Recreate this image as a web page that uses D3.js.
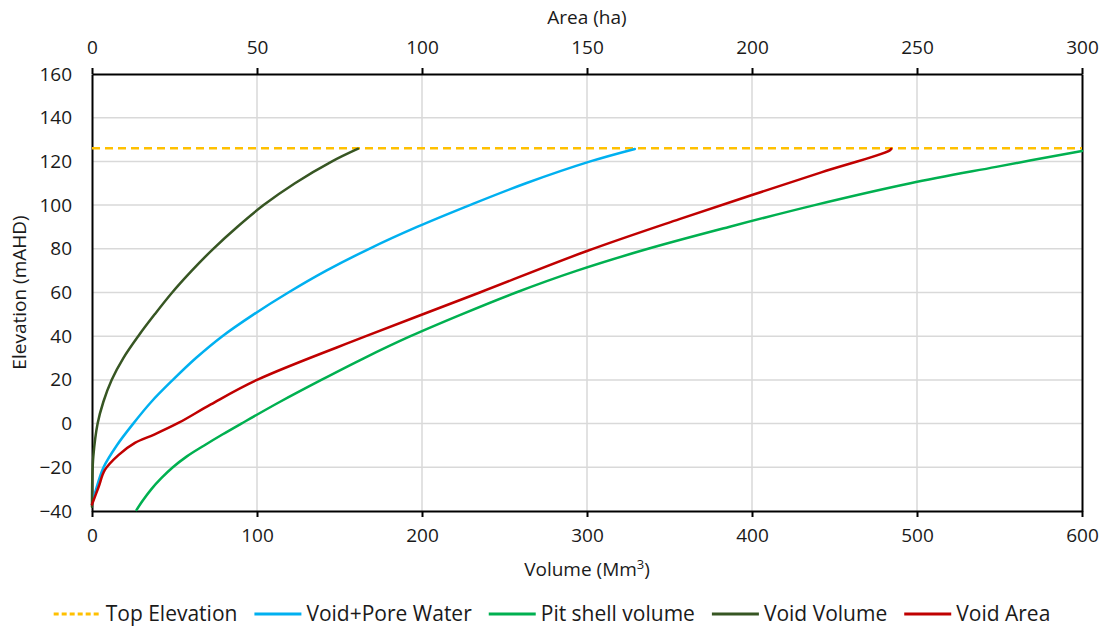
<!DOCTYPE html>
<html>
<head>
<meta charset="utf-8">
<script src="https://cdn.jsdelivr.net/npm/d3@7"></script>
<style>
  body { margin: 0; background: #fff; }
  text { font-family: "Open Sans", sans-serif; fill: #1a1a1a; }
</style>
</head>
<body>
<div class="first"></div>
<script>
// values: [volume Mm3 (or area ha), elevation mAHD]
const topElevation = 126;
const topElevationSpan = [0, 600];

const voidPoreWater = [
  [0, -37], [2.5, -30], [7, -20], [15, -10], [25, 0], [36, 10], [49, 20],
  [63, 30], [79, 40], [98, 50], [119, 60], [142, 70], [168, 80], [197, 90],
  [229, 100], [263, 110], [302, 120], [329, 125.7]
];

const pitShellVolume = [
  [27, -39.5], [31, -35], [36, -30], [42, -25], [49, -20], [57.5, -15],
  [68, -10], [79, -5], [90.5, 0], [114, 10], [139, 20], [165, 30], [193, 40],
  [224, 50], [257, 60], [294, 70], [337, 80], [386, 90], [438, 100],
  [496, 110], [548, 117.5], [600, 124.8]
];

const voidVolume = [
  [0, -38], [0.2, -25], [0.8, -15], [3.4, 0], [6.9, 10], [11.9, 20], [19, 30],
  [28, 40], [38, 50], [48.6, 60], [60.5, 70], [73.5, 80], [88, 90], [104, 100],
  [123, 110], [145.5, 120], [161.3, 125.8]
];

// void area is plotted against the top axis (ha)
const voidArea = [
  [0, -37], [2, -29], [3.9, -21.2], [8, -14.4], [13, -8.8], [19, -4.9],
  [26.3, 0.4], [36, 8.8], [50, 20], [83, 40], [117.5, 60], [150, 79],
  [178, 93.6], [200, 104.6], [221, 115], [241.5, 124.8], [242.2, 125.8]
];

const volumeTicks = [0, 100, 200, 300, 400, 500, 600];
const areaTicks = [0, 50, 100, 150, 200, 250, 300];
const elevationTicks = [-40, -20, 0, 20, 40, 60, 80, 100, 120, 140, 160];

const legendItems = [
  {label: 'Top Elevation', color: '#FFC000', dash: '5,3'},
  {label: 'Void+Pore Water', color: '#00B0F0'},
  {label: 'Pit shell volume', color: '#00B050'},
  {label: 'Void Volume', color: '#375623'},
  {label: 'Void Area', color: '#C00000'}
];

const w = 1104, h = 627;
const m = {top: 74, left: 92, right: 22, bottom: 116};

const svg = d3.select('.first').append('svg')
    .attr('width', w)
    .attr('height', h);

const x = d3.scaleLinear().domain([0, 600]).range([m.left, w - m.right]);
const xTop = d3.scaleLinear().domain([0, 300]).range([m.left, w - m.right]);
const y = d3.scaleLinear().domain([-40, 160]).range([h - m.bottom, m.top]);

// grid
svg.append('g').selectAll('line.vg')
    .data(volumeTicks.slice(1, -1))
    .enter().append('line')
    .attr('x1', d => x(d)).attr('x2', d => x(d))
    .attr('y1', y(160)).attr('y2', y(-40))
    .attr('stroke', '#d9d9d9').attr('stroke-width', 1.5);
svg.append('g').selectAll('line.hg')
    .data(elevationTicks.slice(1, -1))
    .enter().append('line')
    .attr('x1', x(0)).attr('x2', x(600))
    .attr('y1', d => y(d)).attr('y2', d => y(d))
    .attr('stroke', '#d9d9d9').attr('stroke-width', 1.5);

// axes
const fs = 19;
const bottomAxis = svg.append('g')
    .attr('transform', `translate(0,${y(-40)})`)
    .call(d3.axisBottom(x).tickValues(volumeTicks).tickSize(6).tickSizeOuter(0).tickPadding(12));
const topAxis = svg.append('g')
    .attr('transform', `translate(0,${y(160)})`)
    .call(d3.axisTop(xTop).tickValues(areaTicks).tickSize(6).tickSizeOuter(0).tickPadding(14));
const leftAxis = svg.append('g')
    .attr('transform', `translate(${x(0)},0)`)
    .call(d3.axisLeft(y).tickValues(elevationTicks).tickSize(0).tickPadding(20));
const rightAxis = svg.append('g')
    .attr('transform', `translate(${x(600)},0)`)
    .call(d3.axisRight(y).tickValues([]).tickSizeOuter(0));

[bottomAxis, topAxis, leftAxis, rightAxis].forEach(a => {
  a.selectAll('path').attr('stroke', '#000').attr('stroke-width', 2);
  a.selectAll('line').attr('stroke', '#000').attr('stroke-width', 2);
  a.selectAll('text')
      .style('font-family', '"Open Sans", sans-serif')
      .attr('font-size', fs)
      .attr('fill', '#1a1a1a');
});

// axis titles
svg.append('text')
    .attr('x', (x(0) + x(600)) / 2)
    .attr('y', 24)
    .attr('text-anchor', 'middle')
    .attr('font-size', fs)
    .text('Area (ha)');

const vt = svg.append('text')
    .attr('x', (x(0) + x(600)) / 2)
    .attr('y', 576)
    .attr('text-anchor', 'middle')
    .attr('font-size', fs);
vt.append('tspan').text('Volume (Mm');
vt.append('tspan').attr('font-size', 13).attr('dy', -7).text('3');
vt.append('tspan').attr('dy', 7).text(')');

svg.append('text')
    .attr('transform', `translate(26,${(y(-40) + y(160)) / 2}) rotate(-90)`)
    .attr('text-anchor', 'middle')
    .attr('font-size', fs)
    .text('Elevation (mAHD)');

// lines
const line = d3.line()
    .x(d => x(d[0]))
    .y(d => y(d[1]))
    .curve(d3.curveCatmullRom.alpha(0.5));
const lineTop = d3.line()
    .x(d => xTop(d[0]))
    .y(d => y(d[1]))
    .curve(d3.curveCatmullRom.alpha(0.5));

svg.append('line')
    .attr('x1', x(topElevationSpan[0])).attr('x2', x(topElevationSpan[1]))
    .attr('y1', y(topElevation)).attr('y2', y(topElevation))
    .attr('stroke', '#FFC000').attr('stroke-width', 2.5)
    .attr('stroke-dasharray', '8,5');

const series = [
  {data: voidPoreWater, color: '#00B0F0', gen: line},
  {data: pitShellVolume, color: '#00B050', gen: line},
  {data: voidVolume, color: '#375623', gen: line},
  {data: voidArea, color: '#C00000', gen: lineTop}
];
series.forEach(s => {
  svg.append('path')
      .datum(s.data)
      .attr('d', s.gen)
      .attr('fill', 'none')
      .attr('stroke', s.color)
      .attr('stroke-width', 2.5)
      .attr('stroke-linejoin', 'round')
      .attr('stroke-linecap', 'round');
});

// legend
const legend = svg.append('g');
let cursor = 0;
legendItems.forEach(d => {
  const g = legend.append('g').attr('transform', `translate(${cursor},0)`);
  g.append('line')
      .attr('x1', 0).attr('x2', 47)
      .attr('y1', 0).attr('y2', 0)
      .attr('stroke', d.color)
      .attr('stroke-width', 3)
      .attr('stroke-dasharray', d.dash || null);
  const t = g.append('text')
      .attr('x', 52).attr('y', 7)
      .attr('font-size', 21)
      .text(d.label);
  cursor += 52 + t.node().getComputedTextLength() + 17;
});
const legendW = cursor - 17;
legend.attr('transform', `translate(${(w - legendW) / 2},614)`);
</script>
</body>
</html>
